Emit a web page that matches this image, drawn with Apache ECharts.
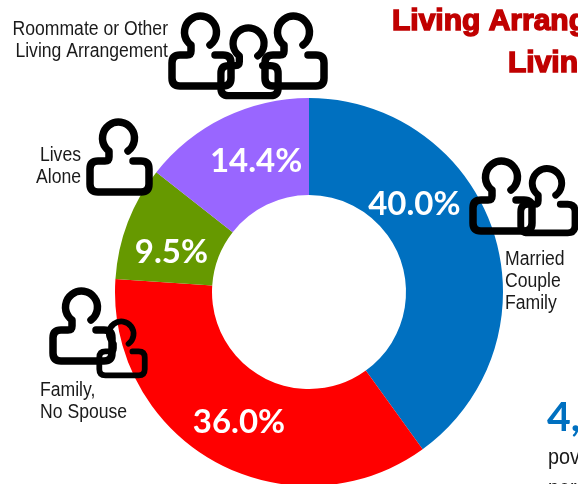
<!DOCTYPE html>
<html>
<head>
<meta charset="utf-8">
<style>
html, body { margin: 0; padding: 0; background: #fff; overflow: hidden; }
#chart { width: 578px; height: 484px; }
</style>
<script src="https://cdn.jsdelivr.net/npm/echarts@6/dist/echarts.min.js"></script>
</head>
<body>
<div id="chart"></div>
<script>
var categories = ['Married\nCouple\nFamily', 'Family,\nNo Spouse', 'Lives\nAlone', 'Roommate or Other\nLiving Arrangement'];
var shares = [40.0, 36.0, 9.5, 14.4];
var sliceColors = ['#0070C0', '#FF0000', '#669900', '#9966FF'];
// labels were moved by hand in the original, so they don't sit on the ring centre
var labelOffsets = [[-36, -42], [2, 0], [1, 14], [12, 3]];
var labelPlaces = [
    { x: 505, y: 248, align: 'left' },
    { x: 40, y: 379, align: 'left' },
    { x: 81, y: 144, align: 'right' },
    { x: 168, y: 18, align: 'right' }
];
var titleLines = ['Living Arrang', 'Living'];
var bodyLines = ['pov', 'per'];

// x, y, scale of each person icon
var people = [
    [169, 9, 1], [218, 21, 0.97], [262, 9, 1],
    [87, 115, 1],
    [470, 154, 1], [518, 162, 0.92],
    [50, 284, 1], [97, 316, 0.77]
];
var personPath = 'M41 36 A16 16 0 1 0 22 36 L22 42 Q22 46 18 46 L11 46 Q3 46 3 54 L3 69 Q3 77 11 77 ' +
    'L54 77 Q62 77 62 69 L62 54 Q62 46 54 46 L46 46';

echarts.graphic.registerShape('person', echarts.graphic.extendPath(personPath, {}));

var narrowFont = '"Liberation Sans", sans-serif';

var graphics = [];
people.forEach(function (p) {
    graphics.push({
        type: 'person',
        x: p[0],
        y: p[1],
        scaleX: p[2],
        scaleY: p[2],
        z: 10,
        silent: true,
        style: { fill: null, stroke: '#000', lineWidth: 7.5, lineCap: 'round', lineJoin: 'round' }
    });
});
categories.forEach(function (name, i) {
    graphics.push({
        type: 'text',
        x: labelPlaces[i].x,
        y: labelPlaces[i].y,
        scaleX: 0.88,
        z: 11,
        silent: true,
        style: {
            text: name,
            fill: '#1a1a1a',
            align: labelPlaces[i].align,
            font: '20px ' + narrowFont,
            lineHeight: 22
        }
    });
});
titleLines.forEach(function (line, i) {
    graphics.push({
        type: 'text',
        x: i == 0 ? 392 : 508,
        y: i == 0 ? 7 : 49,
        z: 11,
        silent: true,
        style: {
            text: line,
            fill: '#C00000',
            stroke: '#C00000',
            lineWidth: 1.5,
            font: 'bold 30px "Liberation Sans", sans-serif'
        }
    });
});
graphics.push({
    type: 'text',
    x: 547,
    y: 397,
    z: 11,
    silent: true,
    style: { text: '4,', fill: '#0070C0', font: 'bold 41px "Lato", sans-serif' }
});
bodyLines.forEach(function (line, i) {
    graphics.push({
        type: 'text',
        x: 548,
        y: 447 + i * 31,
        scaleX: 0.9,
        z: 11,
        silent: true,
        style: { text: line, fill: '#1a1a1a', font: '22px ' + narrowFont }
    });
});

var chart = echarts.init(document.getElementById('chart'));
chart.setOption({
    animation: false,
    backgroundColor: '#fff',
    graphic: graphics,
    series: [{
        type: 'pie',
        center: [309, 292],
        radius: [97, 194],
        startAngle: 90,
        clockwise: true,
        silent: true,
        labelLine: { show: false },
        label: {
            show: true,
            position: 'inside',
            color: '#fff',
            fontFamily: 'Lato',
            fontWeight: 'bold',
            fontSize: 33,
            formatter: function (p) {
                return p.value.toFixed(1) + '%';
            }
        },
        data: shares.map(function (v, i) {
            return {
                name: categories[i],
                value: v,
                itemStyle: { color: sliceColors[i] },
                label: { offset: labelOffsets[i] }
            };
        })
    }]
});
</script>
</body>
</html>
